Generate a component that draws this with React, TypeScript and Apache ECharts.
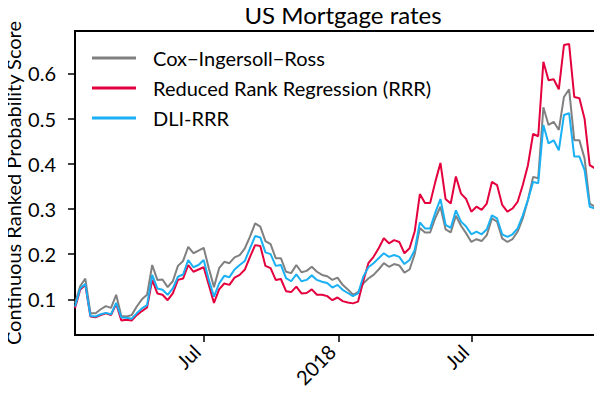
import React, { useEffect, useRef } from "react";
import * as echarts from "echarts";

// Weekly observations, first week of Jan 2017 to late Dec 2018
const START_DATE = new Date(2017, 0, 7).getTime();
const WEEK_MS = 7 * 24 * 3600 * 1000;

const seriesNames = ["Cox\u2212Ingersoll\u2212Ross", "Reduced Rank Regression (RRR)", "DLI-RRR"];

const cir = [
  0.091, 0.129, 0.146, 0.069, 0.069, 0.078, 0.085, 0.081, 0.110, 0.063,
  0.062, 0.065, 0.084, 0.100, 0.110, 0.176, 0.143, 0.144, 0.127, 0.140,
  0.174, 0.185, 0.216, 0.202, 0.208, 0.214, 0.169, 0.127, 0.169, 0.183,
  0.180, 0.193, 0.198, 0.213, 0.239, 0.268, 0.261, 0.229, 0.222, 0.191,
  0.191, 0.161, 0.158, 0.176, 0.160, 0.163, 0.172, 0.161, 0.154, 0.151,
  0.143, 0.148, 0.132, 0.122, 0.110, 0.116, 0.135, 0.146, 0.154, 0.166,
  0.180, 0.172, 0.178, 0.175, 0.159, 0.166, 0.200, 0.258, 0.248, 0.248,
  0.280, 0.305, 0.255, 0.248, 0.285, 0.263, 0.246, 0.227, 0.233, 0.229,
  0.242, 0.279, 0.272, 0.235, 0.227, 0.233, 0.250, 0.279, 0.320, 0.371,
  0.368, 0.525, 0.486, 0.493, 0.475, 0.548, 0.565, 0.452, 0.452, 0.412,
  0.312, 0.305, 0.270,
];

const rrr = [
  0.080, 0.121, 0.132, 0.062, 0.060, 0.065, 0.069, 0.065, 0.090, 0.053,
  0.055, 0.053, 0.065, 0.074, 0.082, 0.143, 0.113, 0.110, 0.098, 0.113,
  0.143, 0.146, 0.176, 0.161, 0.166, 0.171, 0.132, 0.092, 0.122, 0.135,
  0.132, 0.148, 0.154, 0.166, 0.194, 0.220, 0.218, 0.174, 0.169, 0.143,
  0.145, 0.118, 0.116, 0.128, 0.113, 0.114, 0.122, 0.110, 0.110, 0.107,
  0.098, 0.104, 0.096, 0.093, 0.091, 0.095, 0.140, 0.180, 0.194, 0.213,
  0.235, 0.224, 0.231, 0.227, 0.202, 0.213, 0.250, 0.333, 0.313, 0.313,
  0.360, 0.402, 0.322, 0.312, 0.372, 0.334, 0.322, 0.294, 0.305, 0.298,
  0.312, 0.360, 0.353, 0.309, 0.294, 0.301, 0.316, 0.353, 0.397, 0.466,
  0.461, 0.626, 0.585, 0.587, 0.565, 0.663, 0.665, 0.548, 0.545, 0.500,
  0.397, 0.390, 0.335,
];

const dliRrr = [
  0.084, 0.124, 0.134, 0.063, 0.062, 0.067, 0.070, 0.067, 0.092, 0.060,
  0.059, 0.057, 0.069, 0.080, 0.087, 0.154, 0.124, 0.121, 0.110, 0.124,
  0.150, 0.155, 0.187, 0.171, 0.176, 0.187, 0.143, 0.106, 0.135, 0.152,
  0.149, 0.166, 0.176, 0.185, 0.213, 0.240, 0.237, 0.204, 0.200, 0.174,
  0.176, 0.147, 0.140, 0.155, 0.140, 0.143, 0.153, 0.143, 0.139, 0.136,
  0.126, 0.132, 0.121, 0.114, 0.107, 0.113, 0.150, 0.171, 0.180, 0.191,
  0.202, 0.194, 0.198, 0.194, 0.178, 0.187, 0.209, 0.270, 0.257, 0.257,
  0.292, 0.322, 0.265, 0.258, 0.297, 0.272, 0.261, 0.244, 0.250, 0.244,
  0.255, 0.286, 0.279, 0.244, 0.238, 0.244, 0.257, 0.286, 0.320, 0.360,
  0.357, 0.486, 0.445, 0.452, 0.430, 0.508, 0.512, 0.416, 0.416, 0.386,
  0.305, 0.301, 0.264,
];

const dates = cir.map((_, i) => START_DATE + i * WEEK_MS);

const xTickDates = [
  new Date(2017, 6, 1).getTime(),
  new Date(2018, 0, 1).getTime(),
  new Date(2018, 6, 1).getTime(),
];
const yTicks = [0.1, 0.2, 0.3, 0.4, 0.5, 0.6];

const colors = ["#808080", "#e4003d", "#1ab0f4"];
const FONT = "Lato";
const FS = 20;

export default function App() {
  const ref = useRef<HTMLDivElement>(null);
  useEffect(() => {
    if (!ref.current) return;
    const chart = echarts.init(ref.current, undefined, { renderer: "svg" });
    const mk = (vals: number[]) => vals.map((v, i) => [dates[i], v]);
    chart.setOption({
      animation: false,
      textStyle: { fontFamily: FONT, color: "#000" },
      title: {
        text: "US Mortgage rates",
        left: 338,
        textAlign: "center",
        top: -3,
        textStyle: { fontFamily: FONT, fontSize: 24, fontWeight: "normal", color: "#000" },
      },
      grid: {
        left: 75,
        right: 2,
        top: 31,
        bottom: 59,
        outerBoundsMode: "none",
        containLabel: false,
        show: true,
        borderColor: "#000",
        borderWidth: 2,
        backgroundColor: "transparent",
      },
      legend: {
        orient: "vertical",
        left: 87,
        top: 43,
        itemWidth: 44,
        itemHeight: 3,
        itemGap: 10,
        icon: "rect",
        data: seriesNames,
        textStyle: {
          fontFamily: FONT,
          fontSize: FS,
          color: "#000",
          lineHeight: 20,
          padding: [0, 0, 0, 12],
        },
      },
      xAxis: {
        type: "value",
        min: dates[0],
        max: dates[dates.length - 1],
        axisLine: { show: false },
        splitLine: { show: false },
        axisTick: {
          show: true,
          customValues: xTickDates,
          length: 7,
          lineStyle: { color: "#000", width: 1.5 },
        },
        axisLabel: {
          customValues: xTickDates,
          rotate: 45,
          margin: 20,
          verticalAlign: "bottom",
          fontFamily: FONT,
          fontSize: FS,
          color: "#000",
          formatter: (v: number) => {
            const d = new Date(v);
            return d.getMonth() === 0 ? String(d.getFullYear()) : "Jul";
          },
        },
      },
      yAxis: {
        type: "value",
        min: 0.021,
        max: 0.694,
        name: "Continuous Ranked Probability Score",
        nameLocation: "middle",
        nameGap: 52,
        nameMoveOverlap: false,
        nameTextStyle: { fontFamily: FONT, fontSize: FS, color: "#000" },
        axisLine: { show: false },
        splitLine: { show: false },
        axisTick: {
          show: true,
          customValues: yTicks,
          length: 7,
          lineStyle: { color: "#000", width: 1.5 },
        },
        axisLabel: {
          customValues: yTicks,
          margin: 19,
          fontFamily: FONT,
          fontSize: FS,
          color: "#000",
          formatter: (v: number) => v.toFixed(1),
        },
      },
      series: [
        { name: seriesNames[0], data: mk(cir), color: colors[0] },
        { name: seriesNames[1], data: mk(rrr), color: colors[1] },
        { name: seriesNames[2], data: mk(dliRrr), color: colors[2] },
      ].map((s) => ({
        ...s,
        type: "line",
        showSymbol: false,
        symbol: "none",
        clip: false,
        lineStyle: { width: 2, color: s.color },
        itemStyle: { color: s.color },
      })),
    });
    return () => chart.dispose();
  }, []);
  return <div ref={ref} style={{ width: 602, height: 394, margin: -8 }} />;
}
